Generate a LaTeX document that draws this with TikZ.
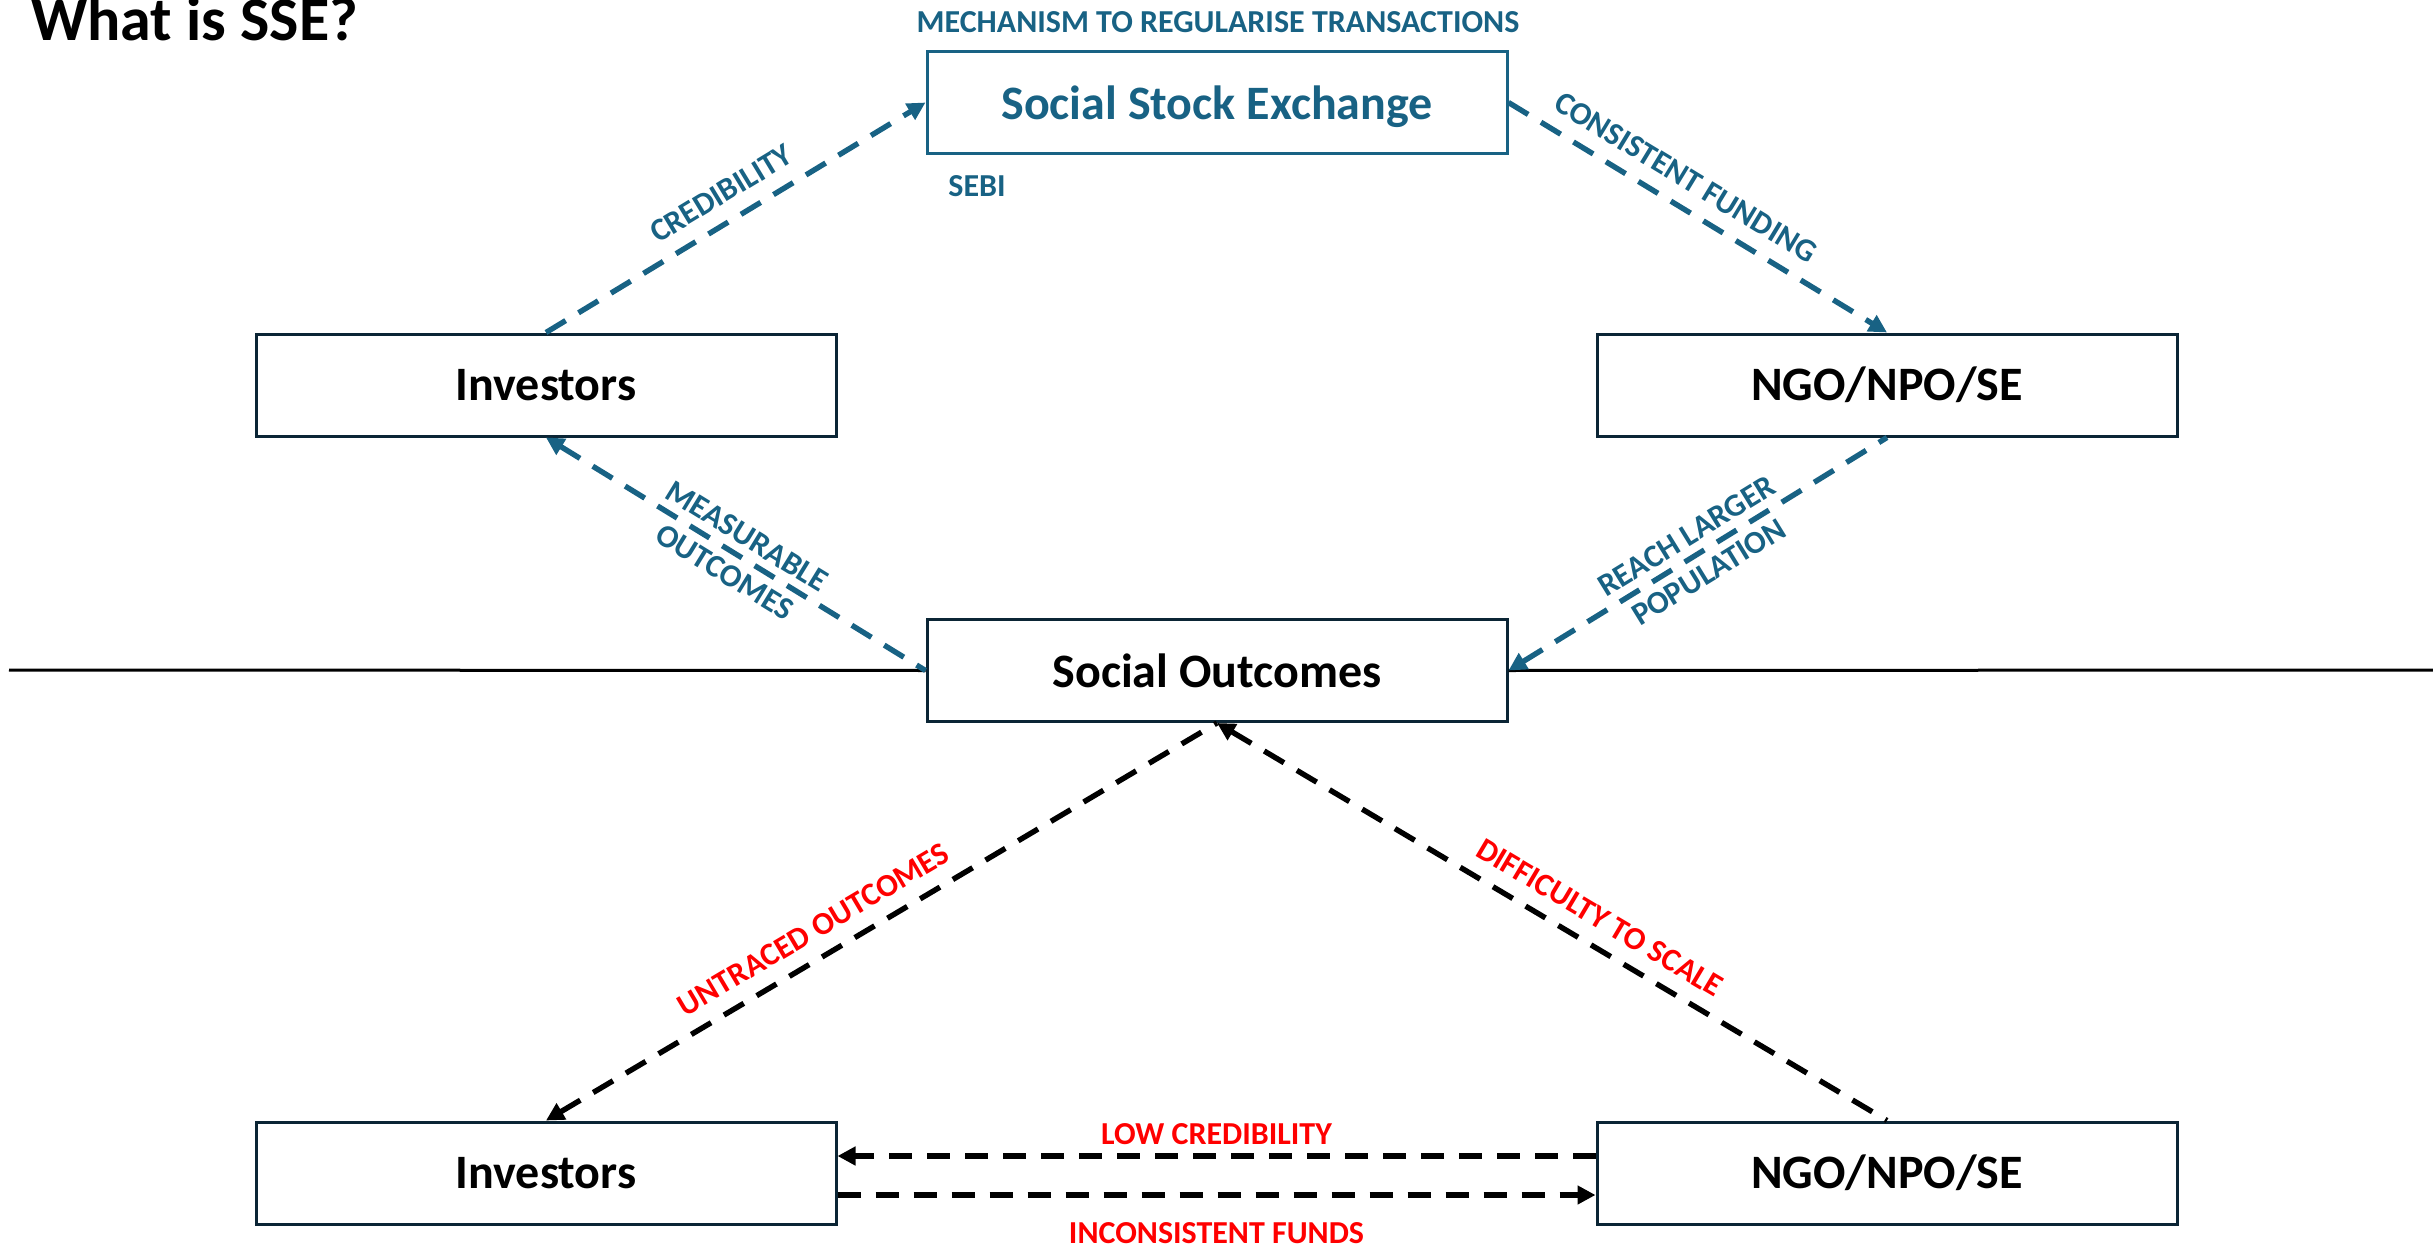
\documentclass[tikz,border=0pt]{standalone}
\usepackage{fontspec}
\setmainfont{Carlito}
\usetikzlibrary{arrows.meta}
\definecolor{sseblue}{HTML}{186284}
\definecolor{boxnavy}{HTML}{0B2535}
\definecolor{warnred}{HTML}{FF0000}
\begin{document}
\begin{tikzpicture}[x=0.5pt,y=-0.5pt,
  >={Triangle[length=9pt,width=9pt]},
  box/.style={draw=boxnavy, line width=1.5pt, minimum width=290pt, minimum height=51pt,
    inner sep=0pt, font=\fontsize{24}{28}\selectfont\bfseries, text=black},
  ssebox/.style={box, draw=sseblue, text=sseblue, text depth=0pt},
  flow/.style={line width=2.7pt, dash pattern=on 11.5pt off 7.5pt},
  blueflow/.style={flow, draw=sseblue},
  blackflow/.style={flow, draw=black},
  lab/.style={font=\fontsize{16}{20}\selectfont\bfseries, text=sseblue, align=center},
  redlab/.style={lab, text=warnred},
  divider/.style={line width=1.5pt, draw=black}
]
\useasboundingbox (0,0) rectangle (2433,1247);

% title and free texts
\node[anchor=base west, inner sep=0pt, font=\fontsize{31}{36}\selectfont\bfseries] (title) at (31,41) {What is SSE?};
\node[lab, inner sep=0pt] (mech) at (1218,22) {MECHANISM TO REGULARISE TRANSACTIONS};
\node[lab, inner sep=0pt, anchor=west] (sebi) at (948,186) {SEBI};

% boxes
\node[ssebox] (sse) at (1217,102.5) {Social Stock Exchange};
\node[box] (inv1) at (546,385) {Investors};
\node[box] (ngo1) at (1887,385) {NGO/NPO/SE};
\node[box] (so) at (1217,670.5) {Social Outcomes};
\node[box] (inv2) at (546,1173) {Investors};
\node[box] (ngo2) at (1887,1173) {NGO/NPO/SE};

% divider line
\coordinate (hl) at (9,670);
\coordinate (hr) at (2433,670);
\draw[divider] (hl) -- (so.west);
\draw[divider] (so.east) -- (hr);

% upper (SSE) flows
\draw[blueflow, ->] (inv1.north) -- node[lab, sloped, above=4pt, pos=0.5] {CREDIBILITY} (sse.west);
\draw[blueflow, ->] (sse.east) -- node[lab, sloped, above=4pt, pos=0.43] {CONSISTENT FUNDING} (ngo1.north);
\draw[blueflow, <-] (inv1.south) -- node[lab, sloped, pos=0.5, font=\fontsize{16}{21}\selectfont\bfseries] {MEASURABLE\\OUTCOMES} (so.west);
\draw[blueflow, <-] (so.east) -- node[lab, sloped, pos=0.5, font=\fontsize{16}{21}\selectfont\bfseries] {REACH LARGER\\POPULATION} (ngo1.south);

% lower (without SSE) flows
\draw[blackflow, <-] (inv2.north) -- node[redlab, sloped, above=4pt, pos=0.42] {UNTRACED OUTCOMES} (so.south);
\draw[blackflow, <-] (so.south) -- node[redlab, sloped, above=4pt, pos=0.55] {DIFFICULTY TO SCALE} (ngo2.north);
\draw[blackflow, ->] ([yshift=8.5pt]ngo2.west) -- node[redlab, above=1pt] {LOW CREDIBILITY} ([yshift=8.5pt]inv2.east);
\draw[blackflow, ->] ([yshift=-11pt]inv2.east) -- node[redlab, below=9pt] {INCONSISTENT FUNDS} ([yshift=-11pt]ngo2.west);
\end{tikzpicture}
\end{document}
